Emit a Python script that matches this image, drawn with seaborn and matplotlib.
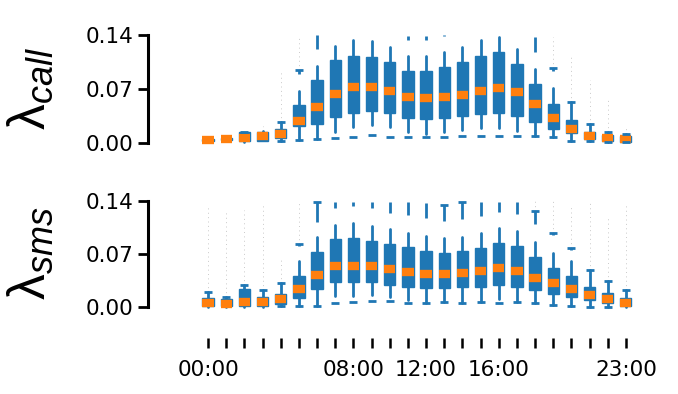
import numpy as np
import seaborn as sns
import matplotlib.pyplot as plt

nan = np.nan

# ------------ data ------------
hours = np.arange(24)
tick_labels = ["00:00", "", "", "", "", "", "", "", "08:00", "", "", "",
               "12:00", "", "", "", "16:00", "", "", "", "", "", "", "23:00"]

# lambda_call
call_q1 = [0.003, 0.004, 0.002, 0.003, 0.007, 0.022, 0.025, 0.034, 0.039, 0.042, 0.039, 0.033,
           0.031, 0.033, 0.035, 0.038, 0.039, 0.035, 0.027, 0.018, 0.0125, 0.005, 0.002, 0.001]
call_med = [0.0043, 0.0056, 0.0065, 0.0091, 0.012, 0.028, 0.047, 0.063, 0.072, 0.073, 0.068, 0.059,
            0.058, 0.060, 0.062, 0.068, 0.071, 0.066, 0.050, 0.032, 0.018, 0.0095, 0.006, 0.0048]
call_q3 = [0.005, 0.0065, 0.0138, 0.0147, 0.018, 0.049, 0.082, 0.107, 0.113, 0.112, 0.105, 0.093,
           0.093, 0.099, 0.105, 0.113, 0.1175, 0.103, 0.076, 0.051, 0.030, 0.0138, 0.0104, 0.009]
call_whi = [0.006, 0.007, 0.014, 0.016, 0.0277, 0.068, 0.100, 0.126, 0.1335, 0.132, 0.124, 0.113,
            0.113, 0.118, 0.124, 0.133, 0.137, 0.122, 0.096, 0.071, 0.0536, 0.0242, 0.0147, 0.0117]
call_wlo = [0.002, 0.003, 0.001, 0.002, 0.0026, 0.0039, 0.0048, 0.0147, 0.0203, 0.0233, 0.0203, 0.0138,
            0.0121, 0.0147, 0.0168, 0.019, 0.0199, 0.0156, 0.0091, 0.0073, 0.003, 0.0022, 0.001, 0.001]
call_low = [nan, nan, nan, nan, 0.0026, 0.0039, 0.0048, 0.006, 0.0082, 0.0099, 0.0082, 0.0078,
            0.0073, 0.0078, 0.0091, 0.0091, 0.0091, 0.0091, 0.0091, 0.0073, 0.003, 0.0022, 0.001, 0.001]
call_bar = [nan, nan, 0.014, nan, 0.0277, 0.0946, nan, nan, nan, nan, nan, nan,
            nan, nan, nan, nan, nan, nan, nan, 0.0968, 0.0536, 0.0242, 0.0147, 0.0117]
call_seg_lo = [nan, nan, nan, nan, nan, 0.090, 0.122, nan, nan, nan, nan, 0.134,
               0.1335, 0.1387, nan, nan, nan, nan, 0.1175, 0.0938, nan, nan, nan, nan]
call_seg_hi = [nan, nan, nan, nan, nan, 0.0946, 0.140, nan, nan, nan, nan, 0.139,
               0.139, 0.140, nan, nan, nan, nan, 0.138, 0.0968, nan, nan, nan, nan]
call_gray = [nan, nan, nan, 0.022, 0.092, 0.138, nan, nan, nan, nan, nan, nan,
             nan, nan, nan, nan, nan, nan, nan, 0.138, 0.116, 0.082, 0.060, 0.019]

# lambda_sms
sms_q1 = [0.0005, 0.0005, 0.0005, 0.0005, 0.003, 0.011, 0.0233, 0.0321, 0.0321, 0.0321, 0.029, 0.0264,
          0.0247, 0.0247, 0.026, 0.0264, 0.0286, 0.0264, 0.022, 0.0167, 0.0132, 0.0088, 0.0044, 0.0005]
sms_med = [0.0044, 0.0035, 0.0057, 0.0062, 0.0097, 0.0233, 0.0414, 0.0537, 0.0533, 0.0533, 0.0497, 0.0458,
           0.0427, 0.0427, 0.0445, 0.0471, 0.0506, 0.0471, 0.0383, 0.0313, 0.0233, 0.0154, 0.0101, 0.0053]
sms_q3 = [0.011, 0.0097, 0.0233, 0.0123, 0.0167, 0.0409, 0.0726, 0.0889, 0.0903, 0.0872, 0.0828, 0.0784,
          0.0735, 0.0709, 0.0731, 0.077, 0.0836, 0.0801, 0.0656, 0.0506, 0.0405, 0.0264, 0.0176, 0.011]
sms_whi = [0.0189, 0.0132, 0.0286, 0.022, 0.0308, 0.0608, 0.0925, 0.1079, 0.1101, 0.107, 0.1021, 0.0977,
           0.0933, 0.0903, 0.0925, 0.0969, 0.1035, 0.1004, 0.0858, 0.0704, 0.0603, 0.0484, 0.0339, 0.022]
sms_wlo = [0.0, 0.0, 0.0, 0.0, 0.001, 0.001, 0.0013, 0.0141, 0.0141, 0.0154, 0.0123, 0.0088,
           0.0053, 0.0062, 0.0053, 0.0057, 0.0097, 0.0062, 0.0053, 0.0022, 0.0013, 0.0, 0.0, 0.0]
sms_low = [nan, nan, nan, nan, 0.001, 0.001, 0.0013, 0.0053, 0.0066, 0.0079, 0.0079, 0.0053,
           0.0053, 0.0062, 0.0053, 0.0057, 0.0044, 0.0062, 0.0053, 0.0022, 0.0013, 0.0, 0.0, nan]
sms_bar = [0.0189, 0.0132, 0.0286, 0.022, 0.0308, 0.0823, 0.1387, nan, nan, nan, nan, nan,
           nan, 0.1343, 0.1378, nan, nan, nan, 0.1268, 0.0969, 0.077, 0.0484, 0.0339, 0.022]
sms_seg_lo = [nan, nan, nan, nan, nan, 0.080, 0.1123, 0.131, 0.133, 0.130, 0.124, 0.121,
              0.1167, 0.113, 0.1153, 0.1197, 0.1255, 0.1224, 0.1087, 0.0945, 0.075, nan, nan, nan]
sms_seg_hi = [nan, nan, nan, nan, nan, 0.0823, 0.1387, 0.1387, 0.1387, 0.1387, 0.1387, 0.1387,
              0.1365, 0.1343, 0.1378, 0.1378, 0.1387, 0.1387, 0.1268, 0.0969, 0.077, nan, nan, nan]
sms_gray = [0.132, 0.128, 0.128, 0.136, 0.066, 0.137, nan, nan, nan, nan, nan, nan,
            nan, nan, nan, nan, nan, nan, 0.140, 0.140, 0.134, 0.140, 0.119, 0.134]

# ------------ style ----------------
sns.set_theme(style="ticks")
plt.rcParams["font.family"] = ["DejaVu Sans"]
plt.rcParams["text.color"] = "black"
plt.rcParams["axes.labelcolor"] = "black"
plt.rcParams["xtick.color"] = "black"
plt.rcParams["ytick.color"] = "black"
plt.rcParams["mathtext.fontset"] = "custom"
plt.rcParams["mathtext.rm"] = "Liberation Sans"
plt.rcParams["mathtext.it"] = "Liberation Sans:italic"

pal = sns.color_palette("tab10")
blue, orange = pal[0], pal[1]


def draw_panel(ax, q1, med, q3, wlo, whi, low, bar, seg_lo, seg_hi, gray):
    stats = [dict(q1=a, med=m, q3=b, whislo=lo, whishi=hi, fliers=[])
             for a, m, b, lo, hi in zip(q1, med, q3, wlo, whi)]
    ax.bxp(stats, positions=hours, widths=0.62, patch_artist=True,
           showcaps=False, showfliers=False,
           boxprops=dict(facecolor=blue, edgecolor=blue, linewidth=1),
           whiskerprops=dict(color=blue, linewidth=2),
           medianprops=dict(color=orange, linewidth=6, solid_capstyle="butt"))
    # sparse outliers (faint dots)
    gray_lo = np.fmax(np.array(whi), np.nan_to_num(np.array(bar)))
    ax.vlines(hours, gray_lo, gray, colors="0.3", linestyles=(0, (1, 3.5)),
              linewidth=0.7, alpha=0.3, zorder=1)
    # dense outlier clusters
    ax.vlines(hours, seg_lo, seg_hi, colors=[blue], linewidth=2, zorder=3)
    ax.plot(hours, bar, ls="none", marker="_", ms=6, mew=2, color=blue, zorder=3)
    ax.plot(hours, low, ls="none", marker="_", ms=6, mew=2, color=blue, zorder=3)

    ax.set_xlim(-0.5, 23.5)
    ax.set_ylim(-0.003, 0.143)
    ax.set_yticks([0, 0.07, 0.14])
    ax.set_yticklabels(["0.00", "0.07", "0.14"])
    ax.spines["left"].set_bounds(0, 0.14)
    ax.spines["left"].set_position(("outward", 37))
    ax.spines["left"].set_linewidth(2.2)
    ax.spines["left"].set_color("black")
    for s in ["top", "right", "bottom"]:
        ax.spines[s].set_visible(False)
    ax.tick_params(axis="y", length=7, width=2, labelsize=15.5, pad=3)


fig = plt.figure(figsize=(6.78, 3.94), dpi=100)
ax1 = fig.add_axes([0.2935, 0.6312, 0.643, 0.2858])
ax2 = fig.add_axes([0.2935, 0.2157, 0.643, 0.2807])

draw_panel(ax1, call_q1, call_med, call_q3, call_wlo, call_whi, call_low,
           call_bar, call_seg_lo, call_seg_hi, call_gray)
draw_panel(ax2, sms_q1, sms_med, sms_q3, sms_wlo, sms_whi, sms_low,
           sms_bar, sms_seg_lo, sms_seg_hi, sms_gray)

ax1.tick_params(axis="x", bottom=False, labelbottom=False)
ax2.spines["bottom"].set_position(("outward", 21))
ax2.set_xticks(hours)
ax2.set_xticklabels(tick_labels)
ax2.tick_params(axis="x", length=7, width=1.8, labelsize=15.5, pad=9)

ax1.set_ylabel(r"$\mathrm{\lambda}_{call}$", fontsize=37)
ax2.set_ylabel(r"$\mathrm{\lambda}_{sms}$", fontsize=37)
ax1.yaxis.set_label_coords(-0.33, 0.5)
ax2.yaxis.set_label_coords(-0.33, 0.5)

fig.savefig("out.png", dpi=100)
